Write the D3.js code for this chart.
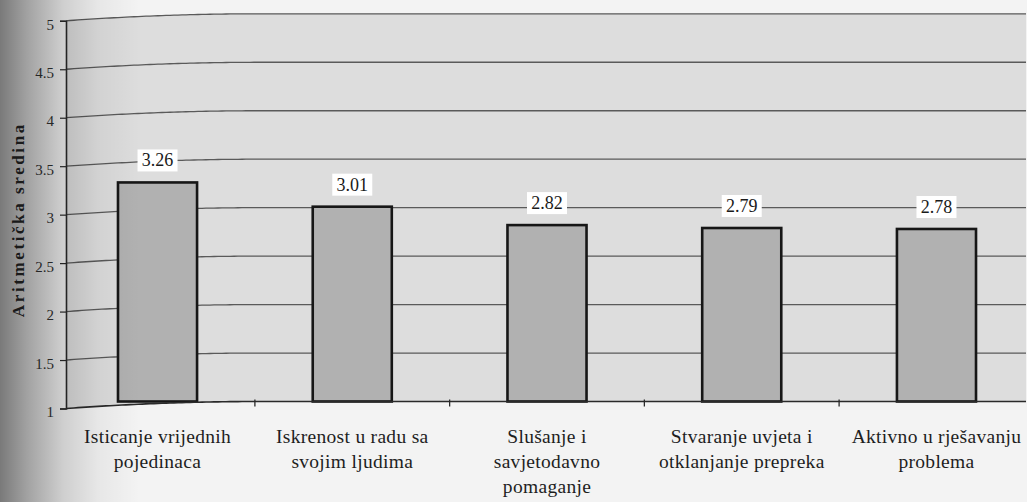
<!DOCTYPE html>
<html>
<head>
<meta charset="utf-8">
<script src="https://cdn.jsdelivr.net/npm/d3@7"></script>
<style>
  html, body { margin: 0; padding: 0; background: #f3f3f3; }
  svg { display: block; }
  svg text { font-family: "Liberation Serif", "Times New Roman", "DejaVu Serif", serif; }
</style>
</head>
<body>
<svg id="chart" width="1027" height="502"></svg>
<script>
// Category names, one entry per line of the axis label
const categories = [
  ["Isticanje vrijednih", "pojedinaca"],
  ["Iskrenost u radu sa", "svojim ljudima"],
  ["Slušanje i", "savjetodavno", "pomaganje"],
  ["Stvaranje uvjeta i", "otklanjanje prepreka"],
  ["Aktivno u rješavanju", "problema"]
];
const values = [3.26, 3.01, 2.82, 2.79, 2.78];
const valueLabels = ["3.26", "3.01", "2.82", "2.79", "2.78"];
const yTicks = [1, 1.5, 2, 2.5, 3, 3.5, 4, 4.5, 5];
const yTickLabels = ["1", "1.5", "2", "2.5", "3", "3.5", "4", "4.5", "5"];
const yTitle = "Aritmetička sredina";

const W = 1027, H = 502;
const SERIF = '"Liberation Serif", "Times New Roman", "DejaVu Serif", serif';
const svg = d3.select("#chart");
const keys = categories.map(c => c.join(" "));

const x = d3.scaleBand()
  .domain(keys)
  .range([66, 1028])
  .paddingInner(0.594)
  .paddingOuter(0.267);

const y = d3.scaleLinear()
  .domain([1, 5])
  .range([401.5, 13.8]);

// The printed page curls down slightly towards the binding on the left
const bend = px => px < 260 ? 7 * Math.pow((260 - px) / 194, 2) : 0;

const xLeft = 66, xRight = W;
const xs = d3.range(xLeft, xRight + 1, 4);
const bentLine = d3.line().x(d => d[0]).y(d => d[1]);
const levelPath = v => bentLine(xs.map(px => [px, y(v) + bend(px)]));

// Plot area background
const areaPts = xs.map(px => [px, y(5) + bend(px)])
  .concat(xs.slice().reverse().map(px => [px, y(1) + bend(px)]));
svg.append("path")
  .attr("d", bentLine(areaPts) + "Z")
  .attr("fill", "#dddddd");

// Horizontal gridlines
svg.append("g")
  .selectAll("path")
  .data(yTicks.filter(v => v > 1))
  .join("path")
  .attr("d", d => levelPath(d))
  .attr("fill", "none")
  .attr("stroke", "#5a5a5a")
  .attr("stroke-width", 1.3);

// Data labels with white boxes
const lbl = svg.append("g");
lbl.selectAll("rect")
  .data(values)
  .join("rect")
  .attr("x", (d, i) => x(keys[i]) + x.bandwidth() / 2 - 20)
  .attr("y", d => y(d) - 33)
  .attr("width", 40)
  .attr("height", 22)
  .attr("fill", "#ffffff");
lbl.selectAll("text")
  .data(values)
  .join("text")
  .attr("x", (d, i) => x(keys[i]) + x.bandwidth() / 2)
  .attr("y", d => y(d) - 16)
  .attr("text-anchor", "middle")
  .style("font-family", SERIF)
  .style("font-size", "18px")
  .attr("fill", "#1a1a1a")
  .text((d, i) => valueLabels[i]);

// Bars
svg.append("g")
  .selectAll("rect")
  .data(values)
  .join("rect")
  .attr("x", (d, i) => x(keys[i]))
  .attr("y", d => y(d))
  .attr("width", x.bandwidth())
  .attr("height", d => y(1) - y(d))
  .attr("fill", "#b1b1b1")
  .attr("stroke", "#161616")
  .attr("stroke-width", 2.6);

// Category axis line and boundary ticks
svg.append("path")
  .attr("d", levelPath(1))
  .attr("fill", "none")
  .attr("stroke", "#2a2a2a")
  .attr("stroke-width", 1.6);

const step = x.step();
const boundaries = keys.slice(1).map(k => x(k) - step * x.paddingInner() / 2);
svg.append("g")
  .selectAll("line")
  .data(boundaries)
  .join("line")
  .attr("x1", d => d).attr("x2", d => d)
  .attr("y1", d => y(1) + bend(d) - 2)
  .attr("y2", d => y(1) + bend(d) + 5)
  .attr("stroke", "#2a2a2a")
  .attr("stroke-width", 1.3);

// Category labels
const catG = svg.append("g")
  .style("font-family", SERIF)
  .style("font-size", "19.5px")
  .attr("fill", "#1e1e1e")
  .attr("text-anchor", "middle");
categories.forEach((lines, i) => {
  const cx = x(keys[i]) + x.bandwidth() / 2;
  const t = catG.append("text")
    .attr("x", cx)
    .attr("y", 443)
    .style("letter-spacing", "0.3px");
  lines.forEach((ln, j) => {
    t.append("tspan")
      .attr("x", cx)
      .attr("dy", j === 0 ? 0 : 25)
      .text(ln);
  });
});

// Value axis
const yAxisBend = bend(xLeft);
const yAxis = svg.append("g")
  .attr("transform", `translate(${xLeft},${yAxisBend})`)
  .call(d3.axisLeft(y)
    .tickValues(yTicks)
    .tickFormat((d, i) => yTickLabels[i])
    .tickSize(6)
    .tickPadding(6));
yAxis.attr("font-family", null).attr("font-size", null);
yAxis.select(".domain")
  .attr("stroke", "#2a2a2a")
  .attr("stroke-width", 1.6);
yAxis.selectAll(".tick line")
  .attr("stroke", "#2a2a2a")
  .attr("stroke-width", 1.2);
yAxis.selectAll(".tick text")
  .style("font-family", SERIF)
  .style("font-size", "15px")
  .attr("fill", "#333333")
  .attr("dy", "0.55em");

// Value axis title
svg.append("text")
  .attr("transform", `translate(24,${(y(1) + y(5)) / 2 + 12}) rotate(-90)`)
  .attr("text-anchor", "middle")
  .style("font-family", SERIF)
  .style("font-weight", "bold")
  .style("font-size", "17px")
  .style("letter-spacing", "2.6px")
  .attr("fill", "#2a2a2a")
  .text(yTitle);

// Shadow of the binding along the left edge of the page
const defs = svg.append("defs");
const grad = defs.append("linearGradient")
  .attr("id", "bindingShade")
  .attr("x1", 0).attr("x2", 1).attr("y1", 0).attr("y2", 0);
[[0, 0.5], [0.2, 0.33], [0.45, 0.15], [0.7, 0.05], [1, 0]].forEach(([o, a]) => {
  grad.append("stop")
    .attr("offset", o)
    .attr("stop-color", "#000")
    .attr("stop-opacity", a);
});
svg.append("rect")
  .attr("x", 0).attr("y", 0)
  .attr("width", 140).attr("height", H)
  .attr("fill", "url(#bindingShade)")
  .style("pointer-events", "none");
</script>
</body>
</html>
